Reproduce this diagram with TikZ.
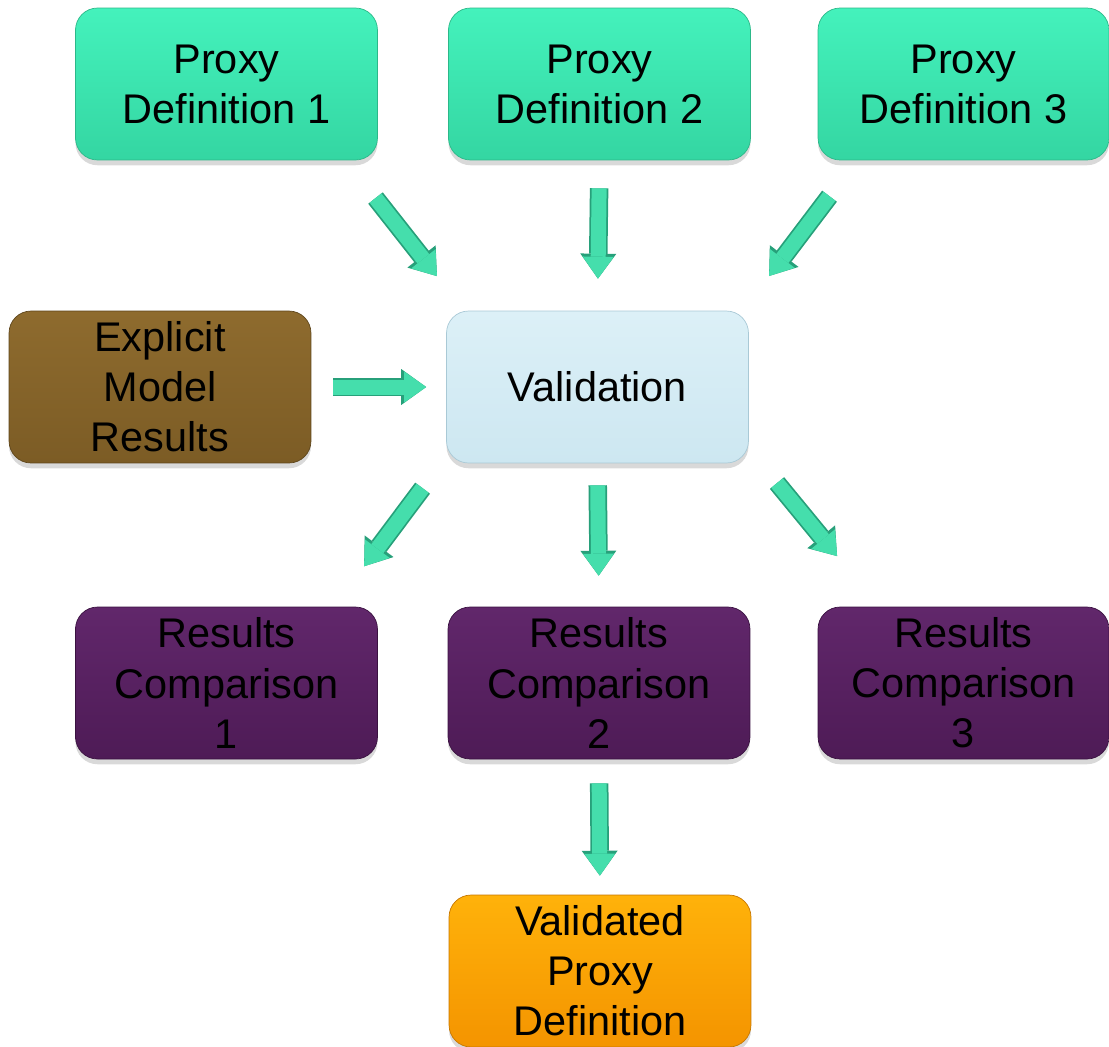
\documentclass[tikz,border=0pt]{standalone}
\usepackage{fontspec}
\setmainfont{Liberation Sans}
\usetikzlibrary{arrows.meta,shadows}

\definecolor{proxytop}{HTML}{44F2BC}
\definecolor{proxybot}{HTML}{34D6A2}
\definecolor{proxyedge}{HTML}{2CB889}
\definecolor{valtop}{HTML}{DCF0F7}
\definecolor{valbot}{HTML}{CDE7F1}
\definecolor{valedge}{HTML}{A9C9D6}
\definecolor{explicittop}{HTML}{8E6B2E}
\definecolor{explicitbot}{HTML}{7C5C25}
\definecolor{explicitedge}{HTML}{5E461C}
\definecolor{comptop}{HTML}{61276B}
\definecolor{compbot}{HTML}{4E1B56}
\definecolor{compedge}{HTML}{3A1240}
\definecolor{finaltop}{HTML}{FFB20A}
\definecolor{finalbot}{HTML}{F49400}
\definecolor{finaledge}{HTML}{C67600}
\definecolor{arrowfill}{HTML}{45DEAC}
\definecolor{arrowedge}{HTML}{27A07A}

\begin{document}
\begin{tikzpicture}[x=0.02cm, y=-0.02cm,
  every node/.style = {align=center, rounded corners=0.44cm, inner sep=0pt,
    minimum width=6.04cm, minimum height=3.04cm,
    font=\fontsize{23.6}{28.5}\selectfont,
    drop shadow={shadow xshift=0pt, shadow yshift=-3pt, opacity=.3}},
  proxybox/.style = {top color=proxytop, bottom color=proxybot, draw=proxyedge, thin},
  validbox/.style = {top color=valtop, bottom color=valbot, draw=valedge, thin},
  explicitbox/.style = {top color=explicittop, bottom color=explicitbot, draw=explicitedge, thin},
  compbox/.style = {top color=comptop, bottom color=compbot, draw=compedge, thin},
  finalbox/.style = {top color=finaltop, bottom color=finalbot, draw=finaledge, thin},
  flowarrow/.style = {draw=arrowfill, line width=0.3cm,
    -{Triangle[width=0.62cm, length=0.44cm, line width=0pt]},
    preaction={draw=arrowedge, line width=0.37cm,
      -{Triangle[width=0.72cm, length=0.5cm, line width=0pt]}}}]
\useasboundingbox (0,0) rectangle (1109,1046);

% top row
\node[proxybox] (proxy1) at (226.5,84) {Proxy\\Definition 1};
\node[proxybox] (proxy2) at (599.5,84) {Proxy\\Definition 2};
\node[proxybox, minimum width=5.82cm] (proxy3) at (963.5,84) {Proxy\\Definition 3};

% middle row
\node[explicitbox] (explicit) at (160,387) {Explicit\\Model\\Results};
\node[validbox] (valid) at (597.5,387) {Validation};

% comparisons
\node[compbox] (comp1) at (226.5,683) {Results\\Comparison\\1};
\node[compbox] (comp2) at (599,683) {Results\\Comparison\\2};
\node[compbox, minimum width=5.82cm] (comp3) at (963.5,683) {Results\\Comparison\\3};

\node[finalbox] (final) at (600,971) {Validated\\Proxy\\Definition};

% arrows
\draw[flowarrow, shorten <=0.96cm, shorten >=0.88cm]
  ([xshift=-0.64cm]proxy1.south east) -- ([xshift=0.36cm]valid.north west);
\draw[flowarrow, shorten <=0.56cm, shorten >=0.64cm] (proxy2.south) -- (valid.north);
\draw[flowarrow, shorten <=0.9cm, shorten >=0.87cm]
  ([xshift=0.78cm]proxy3.south west) -- ([xshift=-0.12cm]valid.north east);
\draw[flowarrow, shorten <=0.44cm, shorten >=0.4cm] (explicit.east) -- (valid.west);
\draw[flowarrow, shorten <=0.62cm, shorten >=1.01cm]
  ([xshift=-0.1cm]valid.south west) -- ([xshift=-0.88cm]comp1.north east);
\draw[flowarrow, shorten <=0.44cm, shorten >=0.62cm] (valid.south) -- (comp2.north);
\draw[flowarrow, shorten <=0.51cm, shorten >=1.31cm]
  ([xshift=0.24cm]valid.south east) -- ([xshift=1.22cm]comp3.north west);
\draw[flowarrow, shorten <=0.48cm, shorten >=0.38cm] (comp2.south) -- (final.north);
\end{tikzpicture}
\end{document}
